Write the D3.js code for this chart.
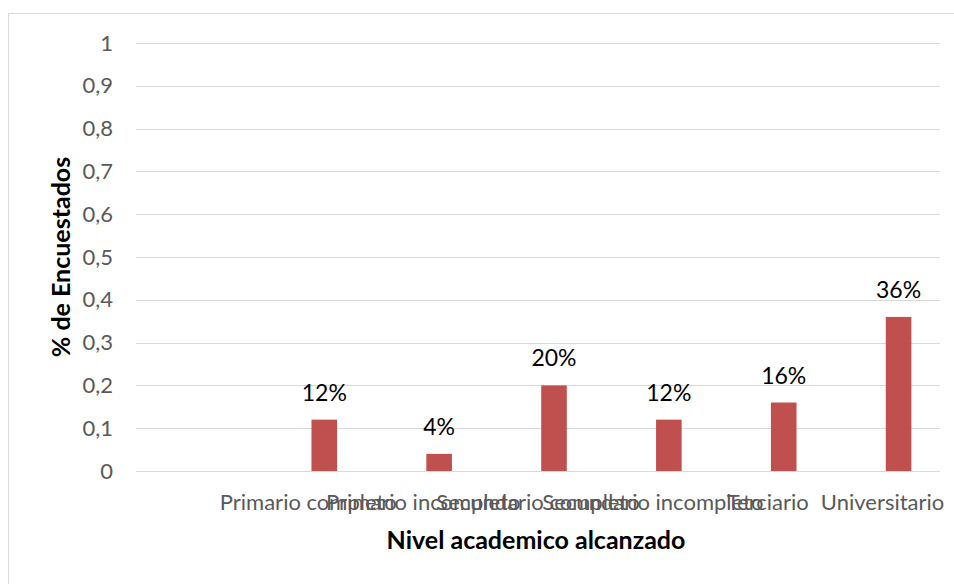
<!DOCTYPE html>
<html>
<head>
<meta charset="utf-8">
<script src="https://cdn.jsdelivr.net/npm/d3@7/dist/d3.min.js"></script>
<style>
  html, body { margin: 0; padding: 0; background: #fff; }
  svg { display: block; }
  text { font-family: Lato, "Open Sans", sans-serif; }
</style>
</head>
<body>
<script>
// ---- data ----
const categories = ["", "Primario completo", "Primario incompleto", "Secundario completo", "Secundario incompleto", "Terciario", "Universitario"];
const values = [null, 0.12, 0.04, 0.20, 0.12, 0.16, 0.36];
const yTicks = [0, 0.1, 0.2, 0.3, 0.4, 0.5, 0.6, 0.7, 0.8, 0.9, 1];
const xTitle = "Nivel academico alcanzado";
const yTitle = "% de Encuestados";

// ---- layout ----
const W = 954, H = 584;
const plot = { left: 136, right: 940, top: 43, bottom: 471 };

const svg = d3.select("body").append("svg").attr("width", W).attr("height", H);

// chart area border
svg.append("rect")
  .attr("x", 8.5).attr("y", 13.5).attr("width", W + 20).attr("height", H + 20)
  .attr("fill", "#fff").attr("stroke", "#d9d9d9").attr("stroke-width", 1);

const x = d3.scaleBand().domain(categories).range([plot.left, plot.right]).padding(0);
const y = d3.scaleLinear().domain([0, 1]).range([plot.bottom, plot.top]);

// gridlines
svg.append("g").selectAll("line").data(yTicks).join("line")
  .attr("x1", plot.left).attr("x2", plot.right)
  .attr("y1", d => Math.round(y(d)) + 0.5).attr("y2", d => Math.round(y(d)) + 0.5)
  .attr("stroke", "#d9d9d9").attr("stroke-width", 1);

// y axis labels
const fmtY = d => d3.format(".1~f")(d).replace(".", ",");
const yAxis = d3.axisLeft(y).tickValues(yTicks).tickFormat(fmtY).tickSize(0).tickPadding(0);
const gy = svg.append("g").attr("transform", `translate(113,0)`).call(yAxis);
gy.select(".domain").remove();
gy.selectAll("text").attr("fill", "#595959").style("font-size", "22px").style("font-family", "Lato, sans-serif");

// x axis labels
const xAxis = d3.axisBottom(x).tickSize(0).tickPadding(0);
const gx = svg.append("g").attr("transform", `translate(0,${plot.bottom})`).call(xAxis);
gx.select(".domain").remove();
gx.selectAll("text").attr("fill", "#595959").attr("dy", null).attr("y", 39)
  .style("font-size", "22px").style("font-family", "Lato, sans-serif");

// bars (single series, drawn in the second slot of a two-slot cluster)
const slot = d3.scaleBand().domain(["a", "b"]).range([0, x.bandwidth()]).paddingInner(0.2).paddingOuter(0.895);
const data = categories.map((c, i) => ({ c, v: values[i] })).filter(d => d.v != null);

svg.append("g").selectAll("rect").data(data).join("rect")
  .attr("x", d => x(d.c) + slot("b"))
  .attr("width", slot.bandwidth())
  .attr("y", d => y(d.v))
  .attr("height", d => y(0) - y(d.v))
  .attr("fill", "#c0504d");

// data labels
svg.append("g").selectAll("text").data(data).join("text")
  .attr("x", d => x(d.c) + slot("b") + slot.bandwidth() / 2)
  .attr("y", d => y(d.v) - 19)
  .attr("text-anchor", "middle")
  .attr("fill", "#000")
  .style("font-size", "23px")
  .text(d => d3.format(".0%")(d.v));

// axis titles
svg.append("text")
  .attr("x", (plot.left + plot.right) / 2 - 2).attr("y", 549)
  .attr("text-anchor", "middle").attr("fill", "#000")
  .style("font-size", "25px").style("font-weight", "bold")
  .text(xTitle);

svg.append("text")
  .attr("transform", `translate(70,${(plot.top + plot.bottom) / 2}) rotate(-90)`)
  .attr("text-anchor", "middle").attr("fill", "#000")
  .style("font-size", "25px").style("font-weight", "bold")
  .text(yTitle);
</script>
</body>
</html>
